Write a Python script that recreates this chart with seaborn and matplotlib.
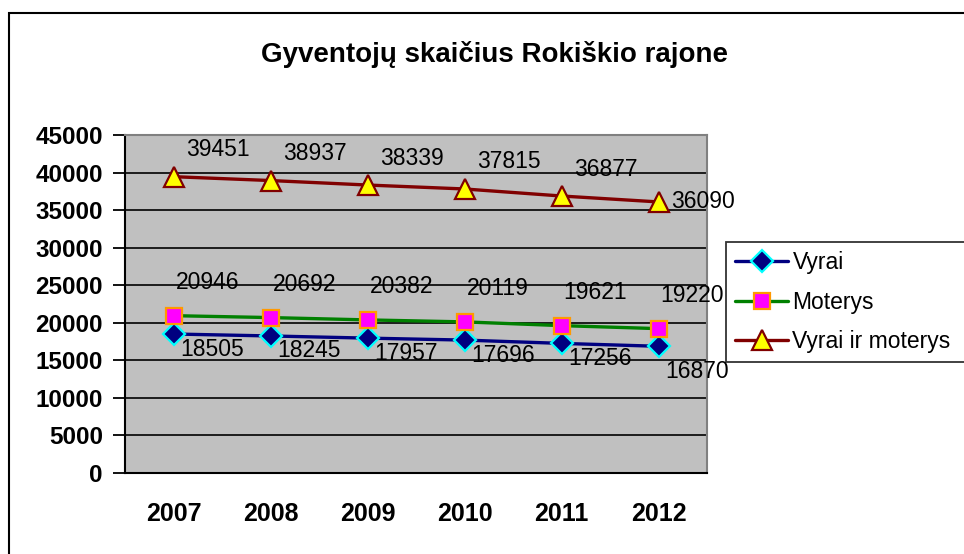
import matplotlib
matplotlib.use("Agg")
import matplotlib.pyplot as plt
import seaborn as sns
import pandas as pd
from matplotlib.patches import Rectangle

years = ["2007", "2008", "2009", "2010", "2011", "2012"]
vyrai = [18505, 18245, 17957, 17696, 17256, 16870]
moterys = [20946, 20692, 20382, 20119, 19621, 19220]
viso = [39451, 38937, 38339, 37815, 36877, 36090]
series_names = ["Vyrai", "Moterys", "Vyrai ir moterys"]
title = "Gyventojų skaičius Rokiškio rajone"
yticks = list(range(0, 45001, 5000))

sns.set_theme(style="white")
plt.rcParams['font.family'] = ['Liberation Sans', 'DejaVu Sans']
plt.rcParams.update({"text.color": "black", "xtick.color": "black",
                     "ytick.color": "black", "axes.labelcolor": "black"})

W, H = 964, 554
fig = plt.figure(figsize=(W / 100, H / 100), dpi=100)
L, R, T, B = 125, 707, 135, 473
ax = fig.add_axes([L / W, 1 - B / H, (R - L) / W, (B - T) / H])
ax.set_facecolor("#C0C0C0")

styles = [
    dict(color="#000080", marker="D", mfc="#000080", mec="#00FFFF", ms=11),
    dict(color="#008000", marker="s", mfc="#FF00FF", mec="#FF9900", ms=12),
    dict(color="#800000", marker="^", mfc="#FFFF00", mec="#800000", ms=15),
]
data = [vyrai, moterys, viso]
for name, vals, st in zip(series_names, data, styles):
    df = pd.DataFrame({"year": years, "value": vals})
    sns.lineplot(data=df, x="year", y="value", ax=ax, color=st["color"], lw=2.4,
                 marker=st["marker"], markerfacecolor=st["mfc"],
                 markeredgecolor=st["mec"], markeredgewidth=1.6,
                 markersize=st["ms"], label=name, zorder=5)

ax.set_xlim(-0.5, 5.5)
ax.set_ylim(0, 45000)
ax.set_yticks(yticks)
ax.set_yticklabels([str(v) for v in yticks], fontsize=17.5, fontweight="bold", color="black")
ax.set_xticks(range(len(years)))
ax.set_xticklabels(years, fontsize=18, fontweight="bold", color="black")
ax.set_xticks([i - 0.5 for i in range(len(years) + 1)], minor=True)
ax.tick_params(axis="x", which="major", length=0, pad=21)
ax.tick_params(axis="x", which="minor", length=7, width=1.3, color="black", direction="out")
ax.tick_params(axis="y", length=9, width=1.3, color="black", direction="out", pad=7, left=True)
ax.set_xlabel("")
ax.set_ylabel("")
ax.grid(False)
for v in yticks[1:-1]:
    ax.axhline(v, color="black", lw=1.2, zorder=1)

for s in ["left", "bottom"]:
    ax.spines[s].set_color("black")
    ax.spines[s].set_linewidth(1.5)
for s in ["top", "right"]:
    ax.spines[s].set_color("#808080")
    ax.spines[s].set_linewidth(1.5)

px = 72 / 100  # points per pixel
fs_lab = 16.5
for i, v in enumerate(vyrai):
    dy = -25 if i == len(years) - 1 else -15
    ax.annotate(str(v), (i, v), xytext=(7 * px, dy * px), textcoords="offset points",
                ha="left", va="center", fontsize=fs_lab, color="black", zorder=6)
for i, v in enumerate(moterys):
    ax.annotate(str(v), (i, v), xytext=(2 * px, 33 * px), textcoords="offset points",
                ha="left", va="center", fontsize=fs_lab, color="black", zorder=6)
for i, v in enumerate(viso):
    if i == len(years) - 1:
        xy = (13 * px, 0)
    else:
        xy = (13 * px, 27 * px)
    ax.annotate(str(v), (i, v), xytext=xy, textcoords="offset points",
                ha="left", va="center", fontsize=fs_lab, color="black", zorder=6)

fig.text((263 + 727) / 2 / W, 1 - 54 / H, title, ha="center", va="center",
         fontsize=20, fontweight="bold", color="black")

leg = fig.legend(*ax.get_legend_handles_labels(), loc="upper left",
                 bbox_to_anchor=(726 / W, 1 - 362 / H, (990 - 726) / W, (362 - 242) / H),
                 mode="expand", frameon=True, fancybox=False, fontsize=16.5,
                 borderpad=0.4, labelspacing=0.72, handlelength=2.3, handletextpad=0.2,
                 borderaxespad=0)
leg.get_frame().set_edgecolor("black")
leg.get_frame().set_linewidth(1.3)
for t in leg.get_texts():
    t.set_color("black")
if ax.get_legend():
    ax.get_legend().remove()

fig.patches.append(Rectangle((9 / W, -0.1), 1.2, 1 - 13 / H + 0.1, transform=fig.transFigure,
                             fill=False, edgecolor="black", lw=1.5))

fig.savefig("out.png", dpi=100)
